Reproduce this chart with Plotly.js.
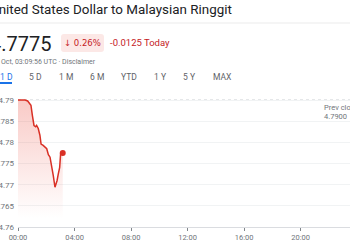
<!DOCTYPE html>
<html>
<head>
<meta charset="utf-8">
<script src="https://cdn.plot.ly/plotly-3.0.1.min.js"></script>
<style>
  html, body { margin: 0; padding: 0; background: #fff; }
  #chart { width: 350px; height: 250px; }
</style>
</head>
<body>
<div id="chart"></div>
<script>
// Intraday USD/MYR quotes
const day = '2023-10-12';
const times = ['00:00', '00:30', '00:41', '00:55', '01:01', '01:08', '01:15', '01:19', '01:26', '01:33',
               '01:38', '01:47', '02:02', '02:09', '02:16', '02:23', '02:30', '02:37', '02:46', '02:51',
               '02:57', '03:01', '03:10'];
const rates = [4.7900, 4.7900, 4.7898, 4.7888, 4.7864, 4.7840, 4.7837, 4.7840, 4.7833, 4.7817,
               4.7796, 4.7793, 4.7785, 4.7771, 4.7765, 4.7745, 4.7721, 4.7694, 4.7710, 4.7725,
               4.7741, 4.7773, 4.7775];
const prevClose = 4.7900;
const lastRate = 4.7775;
const yTicks = [4.76, 4.765, 4.77, 4.775, 4.78, 4.785, 4.79];
const rangeTabs = ['1 D', '5 D', '1 M', '6 M', 'YTD', '1 Y', '5 Y', 'MAX'];
const tabCenters = [6, 35, 66, 97, 129, 160, 189, 222];

const xs = times.map(t => day + ' ' + t);

// Plot area geometry in pixels (used to place header items in paper units)
const L = 18, R = 350, T = 98, B = 227;
const px = x => (x - L) / (R - L);
const py = y => (B - y) / (B - T);

const red = '#d93025';
const grey = '#70757a';
const font = 'Roboto, "Noto Sans", Arial, sans-serif';

const traces = [
  {
    x: xs, y: rates, type: 'scatter', mode: 'lines',
    line: { color: red, width: 1.5, shape: 'linear' },
    fill: 'tozeroy',
    fillgradient: {
      type: 'vertical', start: 4.762, stop: 4.79,
      colorscale: [[0, 'rgba(234,67,53,0)'], [1, 'rgba(234,67,53,0.28)']]
    },
    hoverinfo: 'skip', showlegend: false
  },
  {
    x: [xs[xs.length - 1]], y: [lastRate], type: 'scatter', mode: 'markers',
    marker: { color: red, size: 6, symbol: 'circle' },
    hoverinfo: 'skip', showlegend: false, cliponaxis: false
  }
];

const annotations = [
  { text: 'United States Dollar to Malaysian Ringgit', x: px(233), y: py(10), xanchor: 'right', yanchor: 'middle',
    font: { family: font, size: 13.4, color: '#202124' } },
  { text: lastRate.toFixed(4), x: px(52), y: py(44), xanchor: 'right', yanchor: 'middle',
    font: { family: font, size: 20, color: '#202124' } },
  { text: '↓ 0.26%', x: px(82.5), y: py(43), xanchor: 'center', yanchor: 'middle',
    font: { family: '"DejaVu Sans", Roboto, sans-serif', size: 8.5, color: '#c5221f' } },
  { text: '-0.0125 Today', x: px(109), y: py(43), xanchor: 'left', yanchor: 'middle',
    font: { family: font, size: 9.5, color: '#c5221f' } },
  { text: 'Oct, 03:09:56 UTC · Disclaimer', x: px(97), y: py(62), xanchor: 'right', yanchor: 'middle',
    font: { family: font, size: 7, color: grey } },
  { text: 'Prev close', x: px(323), y: py(107), xanchor: 'left', yanchor: 'middle',
    font: { family: font, size: 7.5, color: grey } },
  { text: prevClose.toFixed(4), x: px(323), y: py(116), xanchor: 'left', yanchor: 'middle',
    font: { family: font, size: 7.5, color: grey } }
];
rangeTabs.forEach((t, i) => {
  annotations.push({
    text: t, x: px(tabCenters[i]), y: py(77), xanchor: 'center', yanchor: 'middle',
    font: { family: font, size: 8.5, color: i === 0 ? '#1a73e8' : '#5f6368' }
  });
});
annotations.forEach(a => { a.xref = 'paper'; a.yref = 'paper'; a.showarrow = false; a.borderpad = 0; });

// rounded rectangle path in paper units for the change badge
function roundRect(x0, y0, x1, y1, r) {
  const rx = r / (R - L), ry = r / (B - T);
  const X0 = px(x0), X1 = px(x1), Y0 = py(y0), Y1 = py(y1); // Y0 top, Y1 bottom
  return `M ${X0 + rx},${Y0} L ${X1 - rx},${Y0} Q ${X1},${Y0} ${X1},${Y0 - ry} ` +
         `L ${X1},${Y1 + ry} Q ${X1},${Y1} ${X1 - rx},${Y1} L ${X0 + rx},${Y1} ` +
         `Q ${X0},${Y1} ${X0},${Y1 + ry} L ${X0},${Y0 - ry} Q ${X0},${Y0} ${X0 + rx},${Y0} Z`;
}

const shapes = [
  // header divider
  { type: 'line', xref: 'paper', yref: 'paper', x0: px(0), x1: px(350), y0: py(23), y1: py(23),
    line: { color: '#ebebeb', width: 1 }, layer: 'below' },
  // change badge
  { type: 'path', xref: 'paper', yref: 'paper', path: roundRect(61, 34, 104, 52, 3),
    fillcolor: '#fce8e6', line: { width: 0 }, layer: 'below' },
  // selected range underline
  { type: 'line', xref: 'paper', yref: 'paper', x0: px(0), x1: px(12), y0: py(83), y1: py(83),
    line: { color: '#1a73e8', width: 2 } },
  // previous close reference
  { type: 'line', xref: 'paper', yref: 'y', x0: 0, x1: 1, y0: prevClose, y1: prevClose,
    line: { color: '#bdc1c6', width: 1, dash: 'dot' }, layer: 'below' }
];

const layout = {
  width: 350, height: 250,
  margin: { l: L, r: 350 - R, t: T, b: 250 - B, pad: 0 },
  paper_bgcolor: '#fff', plot_bgcolor: '#fff',
  font: { family: font, color: grey },
  xaxis: {
    type: 'date', range: [day + ' 00:00', day + ' 23:30'],
    tickformat: '%H:%M', dtick: 4 * 3600 * 1000, tick0: day + ' 00:00',
    showgrid: false, zeroline: false,
    showline: true, linecolor: '#dadce0', linewidth: 1,
    ticks: 'outside', ticklen: 3, tickcolor: '#80868b', tickwidth: 1,
    tickfont: { family: font, size: 7.5, color: grey }
  },
  yaxis: {
    range: [4.76, 4.7905], tickvals: yTicks, ticktext: yTicks.map(v => String(v)),
    showgrid: true, gridcolor: '#f1f3f4', gridwidth: 1, zeroline: false,
    showline: false, ticks: '', ticklabelstandoff: 3,
    tickfont: { family: font, size: 8, color: grey }
  },
  annotations: annotations,
  shapes: shapes,
  showlegend: false
};

Plotly.newPlot('chart', traces, layout, { staticPlot: true, displayModeBar: false });
</script>
</body>
</html>
